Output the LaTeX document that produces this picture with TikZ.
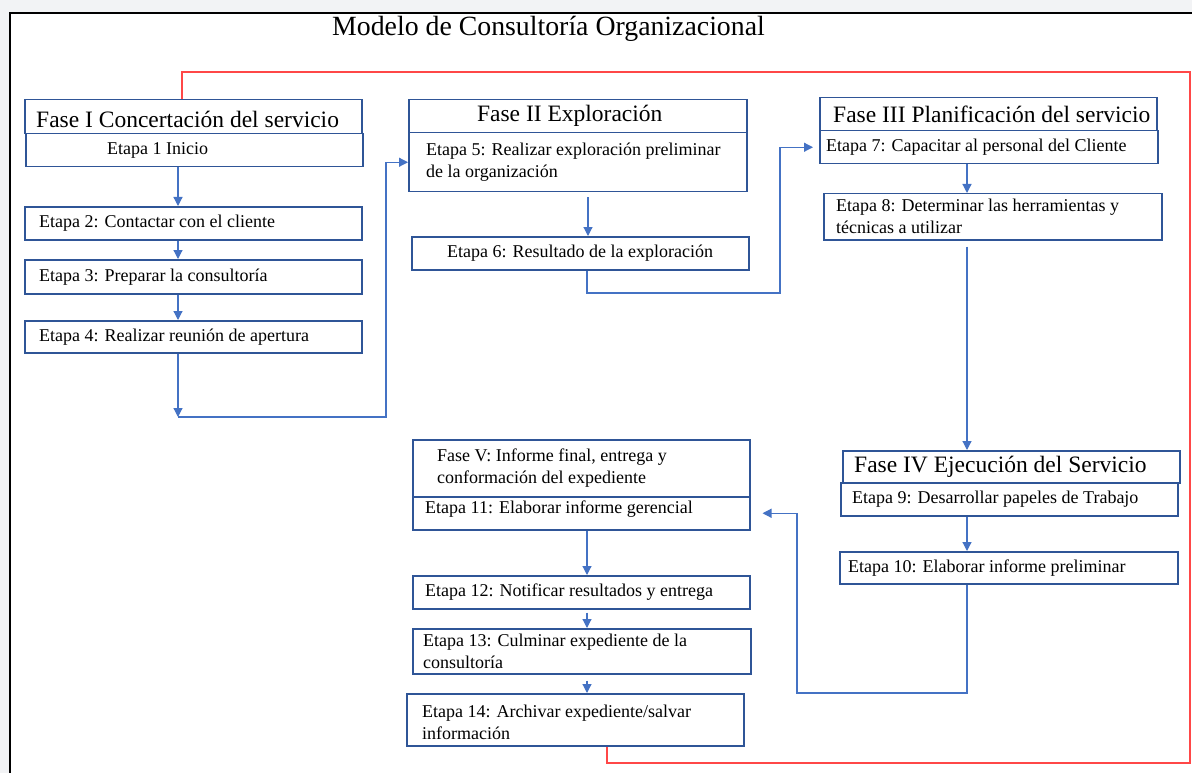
\documentclass[tikz,border=0pt]{standalone}
\usepackage{fontspec}
\setmainfont{Liberation Serif}
\usepackage{xcolor}
\usetikzlibrary{arrows.meta}
\definecolor{boxblue}{HTML}{2F5597}
\definecolor{lineblue}{HTML}{4472C4}
\definecolor{redline}{HTML}{FF4747}
\definecolor{backgr}{HTML}{F2F3F5}

\begin{document}
\begin{tikzpicture}[x=1pt, y=-1pt,
    box/.style = {draw=boxblue, line width=1.5pt, anchor=north west, inner sep=0pt},
    ftxt/.style = {anchor=west, inner sep=0pt, align=left, font=\fontsize{23.5}{26}\selectfont},
    etxt/.style = {anchor=west, inner sep=0pt, align=left, font=\fontsize{18}{22}\selectfont},
    arr/.style = {draw=lineblue, line width=1.2pt, -{Triangle[length=9pt, width=9pt]}},
    redl/.style = {draw=redline, line width=1.2pt}]
    \useasboundingbox (0,0) rectangle (1192,773);
    \fill[backgr] (0,0) rectangle (1192,773);
    \fill[white] (10,13) rectangle (1192,773);
    \draw[black, line width=1.5pt] (10,773) -- (10,13) -- (1192,13);

    \node[anchor=base west, inner sep=0pt, font=\fontsize{27.8}{30}\selectfont] (titulo) at (332,36) {Modelo de Consultoría Organizacional};

    \node[box, minimum width=337pt, minimum height=34pt] (f1) at (24,99) {};
    \node[ftxt, xshift=12pt, yshift=-3pt] (f1t) at (f1.west) {Fase I Concertación del servicio};
    \node[box, minimum width=337pt, minimum height=33pt] (e1) at (25,133) {};
    \node[etxt, xshift=82pt] (e1t) at (e1.west) {Etapa 1 Inicio};
    \node[box, minimum width=337pt, minimum height=33pt] (e2) at (24,206) {};
    \node[etxt, xshift=15pt] (e2t) at (e2.west) {Etapa 2: Contactar con el cliente};
    \node[box, minimum width=337pt, minimum height=34pt] (e3) at (24,259) {};
    \node[etxt, xshift=15pt] (e3t) at (e3.west) {Etapa 3: Preparar la consultoría};
    \node[box, minimum width=337pt, minimum height=32pt] (e4) at (24,320) {};
    \node[etxt, xshift=15pt] (e4t) at (e4.west) {Etapa 4: Realizar reunión de apertura};

    \node[box, minimum width=338pt, minimum height=33pt] (f2) at (408,99) {};
    \node[ftxt, anchor=center, xshift=-8pt] (f2t) at (f2.center) {Fase II Exploración};
    \node[box, minimum width=338pt, minimum height=59pt] (e5) at (408,132) {};
    \node[etxt, xshift=18pt] (e5t) at (e5.west) {Etapa 5: Realizar exploración preliminar\\de la organización};
    \node[box, minimum width=337pt, minimum height=33pt] (e6) at (411,236) {};
    \node[etxt, xshift=36pt] (e6t) at (e6.west) {Etapa 6: Resultado de la exploración};

    \node[box, minimum width=337pt, minimum height=33pt] (f3) at (819,97) {};
    \node[ftxt, xshift=14pt] (f3t) at (f3.west) {Fase III Planificación del servicio};
    \node[box, minimum width=338pt, minimum height=33pt] (e7) at (819,130) {};
    \node[etxt, xshift=7pt] (e7t) at (e7.west) {Etapa 7: Capacitar al personal del Cliente};
    \node[box, minimum width=338pt, minimum height=46pt] (e8) at (823,193) {};
    \node[etxt, xshift=13pt] (e8t) at (e8.west) {Etapa 8: Determinar las herramientas y\\técnicas a utilizar};

    \node[box, minimum width=337pt, minimum height=32pt] (f4) at (842,450) {};
    \node[ftxt, xshift=12pt] (f4t) at (f4.west) {Fase IV Ejecución del Servicio};
    \node[box, minimum width=337pt, minimum height=33pt] (e9) at (840,482) {};
    \node[etxt, xshift=12pt] (e9t) at (e9.west) {Etapa 9: Desarrollar papeles de Trabajo};
    \node[box, minimum width=338pt, minimum height=32pt] (e10) at (839,551) {};
    \node[etxt, xshift=9pt] (e10t) at (e10.west) {Etapa 10: Elaborar informe preliminar};

    \node[box, minimum width=337pt, minimum height=57pt] (f5) at (412,439) {};
    \node[etxt, xshift=25pt] (f5t) at (f5.west) {Fase V: Informe final, entrega y\\conformación del expediente};
    \node[box, minimum width=337pt, minimum height=33pt] (e11) at (412,496) {};
    \node[etxt, xshift=13pt, yshift=4pt] (e11t) at (e11.west) {Etapa 11: Elaborar informe gerencial};
    \node[box, minimum width=337pt, minimum height=33pt] (e12) at (412,575) {};
    \node[etxt, xshift=13pt] (e12t) at (e12.west) {Etapa 12: Notificar resultados y entrega};
    \node[box, minimum width=338pt, minimum height=45pt] (e13) at (412,628) {};
    \node[etxt, xshift=11pt] (e13t) at (e13.west) {Etapa 13: Culminar expediente de la\\consultoría};
    \node[box, minimum width=337pt, minimum height=52pt] (e14) at (406,693) {};
    \node[etxt, xshift=16pt, yshift=-3pt] (e14t) at (e14.west) {Etapa 14: Archivar expediente/salvar\\información};

    \coordinate (cI) at (178,0);
    \coordinate (cII) at (588,0);
    \coordinate (cIII) at (967,0);
    \coordinate (cV) at (587,0);
    \coordinate (j1) at (178,417);
    \coordinate (j2) at (386,417);
    \coordinate (j3) at (587,293);
    \coordinate (j4) at (780,293);
    \coordinate (j5) at (797,693);
    \coordinate (rA) at (182,72);
    \coordinate (rB) at (1190,72);
    \coordinate (rC) at (1190,763);
    \coordinate (rD) at (607,763);

    \draw[arr] (e1.south -| cI) -- (e2.north -| cI);
    \draw[arr] (e2.south -| cI) -- (e3.north -| cI);
    \draw[arr] (e3.south -| cI) -- (e4.north -| cI);
    \draw[arr] (e4.south -| cI) -- (j1);
    \draw[arr] (j1) -- (j2) |- (e5.west);
    \draw[arr] ([yshift=-5pt]e5.south -| cII) -- (e6.north -| cII);
    \draw[arr] (e6.south -| j3) -- (j3) -- (j4) |- ([xshift=-6pt]e7.west);
    \draw[arr] (e7.south -| cIII) -- (e8.north -| cIII);
    \draw[arr] ([yshift=-6pt]e8.south -| cIII) -- (f4.north -| cIII);
    \draw[arr] (e9.south -| cIII) -- (e10.north -| cIII);
    \draw[arr] (e10.south -| cIII) |- (j5) |- ([xshift=12pt]e11.east);
    \draw[arr] (e11.south -| cV) -- (e12.north -| cV);
    \draw[arr] ([yshift=-3pt]e12.south -| cV) -- (e13.north -| cV);
    \draw[arr] ([yshift=-6pt]e13.south -| cV) -- (e14.north -| cV);
    \draw[redl] (f1.north -| rA) -- (rA) -- (rB) -- (rC) -- (rD) -- (e14.south -| rD);
\end{tikzpicture}
\end{document}
